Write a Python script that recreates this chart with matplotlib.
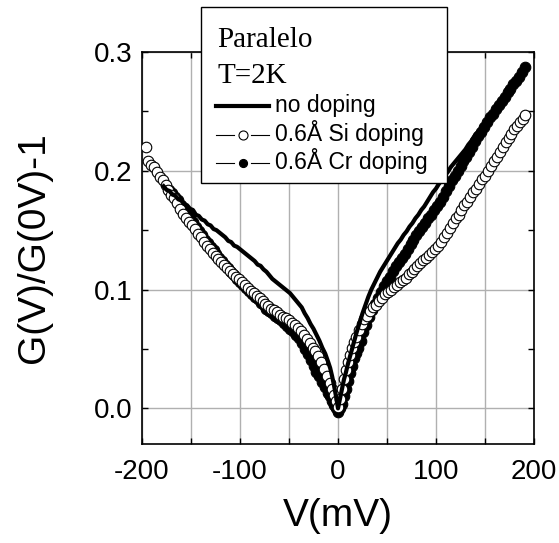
import matplotlib
matplotlib.use("Agg")
import matplotlib.pyplot as plt
from matplotlib.lines import Line2D
from matplotlib.patches import Rectangle
from matplotlib.ticker import MultipleLocator

plt.rcParams['font.family'] = ['Liberation Sans', 'DejaVu Sans']
plt.rcParams['axes.unicode_minus'] = False

# ---- data: normalized conductance G(V)/G(0V)-1 vs bias V (mV) ----
# no doping (solid line)
v_none = [-178, -175, -172, -169, -166, -163, -160, -157, -154, -151, -148, -145,
          -142, -139, -136, -133, -130, -127, -124, -121, -118, -115, -112, -109,
          -106, -103, -100, -97, -94, -91, -88, -85, -82, -79, -76, -73, -70,
          -67, -64, -61, -58, -55, -52, -49, -46, -43, -40, -37, -34, -31, -28,
          -25, -22, -19, -16, -13, -10, -8, -6, -4, -2, 0,
          2, 4, 6, 8, 10, 13, 16, 19, 22, 25, 28, 31, 34, 37, 40, 43, 46, 49,
          52, 55, 58, 61, 64, 67, 70, 73, 76, 79, 82, 85, 88, 91, 94, 97, 100,
          103, 106, 109, 112, 115, 118, 121, 124, 127, 130, 133, 136, 139, 142,
          145, 148, 151, 154, 157, 160, 163, 166, 169, 172, 175, 178, 181, 184,
          187, 190, 193]
g_none = [0.187, 0.184, 0.183, 0.180, 0.179, 0.176, 0.175, 0.172, 0.171, 0.168,
          0.167, 0.163, 0.162, 0.159, 0.158, 0.155, 0.154, 0.151, 0.150, 0.148,
          0.146, 0.144, 0.141, 0.140, 0.137, 0.136, 0.134, 0.132, 0.130, 0.128,
          0.126, 0.124, 0.121, 0.120, 0.117, 0.115, 0.112, 0.109, 0.107, 0.105,
          0.103, 0.101, 0.099, 0.097, 0.094, 0.091, 0.088, 0.085, 0.080, 0.076,
          0.071, 0.067, 0.062, 0.057, 0.051, 0.046, 0.039, 0.034, 0.027, 0.019,
          0.010, 0.000,
          0.008, 0.016, 0.024, 0.030, 0.037, 0.046, 0.055, 0.064, 0.072, 0.080,
          0.087, 0.094, 0.100, 0.105, 0.110, 0.115, 0.119, 0.123, 0.127, 0.131,
          0.135, 0.139, 0.142, 0.146, 0.149, 0.153, 0.156, 0.160, 0.163, 0.167,
          0.170, 0.174, 0.178, 0.182, 0.185, 0.189, 0.192, 0.196, 0.199, 0.203,
          0.206, 0.209, 0.212, 0.215, 0.218, 0.222, 0.225, 0.229, 0.232, 0.235,
          0.239, 0.242, 0.245, 0.248, 0.252, 0.255, 0.258, 0.262, 0.265, 0.269,
          0.272, 0.275, 0.278, 0.281, 0.285, 0.288]

# 0.6 Å Si doping (open circles)
v_si = [-196, -194, -191, -188, -185, -182, -179, -176, -173, -170, -167, -164,
        -161, -158, -155, -152, -149, -146, -143, -140, -137, -134, -131, -128,
        -125, -122, -119, -116, -113, -110, -107, -104, -101, -98, -95, -92,
        -89, -86, -83, -80, -77, -74, -71, -68, -65, -62, -59, -56, -53, -50,
        -47, -44, -41, -38, -35, -32, -29, -26, -23, -20, -17, -14, -11, -8,
        -6, -4, -2, 0,
        2, 4, 6, 8, 10, 12, 14, 16, 18, 21, 24, 27, 30, 33, 36, 39, 42, 45,
        48, 51, 54, 57, 60, 63, 66, 69, 72, 75, 78, 81, 84, 87, 90, 93, 96,
        99, 102, 105, 108, 111, 114, 117, 120, 123, 126, 129, 132, 135, 138,
        141, 144, 147, 150, 153, 156, 159, 162, 165, 168, 171, 174, 177, 180,
        183, 186, 189, 191]
g_si = [0.220, 0.208, 0.205, 0.203, 0.199, 0.195, 0.192, 0.188, 0.184, 0.180,
        0.177, 0.173, 0.168, 0.164, 0.160, 0.157, 0.154, 0.151, 0.147, 0.144,
        0.140, 0.137, 0.134, 0.131, 0.128, 0.126, 0.123, 0.121, 0.118, 0.116,
        0.113, 0.111, 0.109, 0.106, 0.104, 0.101, 0.099, 0.097, 0.095, 0.093,
        0.090, 0.088, 0.086, 0.084, 0.083, 0.081, 0.079, 0.077, 0.076, 0.074,
        0.072, 0.070, 0.068, 0.065, 0.062, 0.058, 0.055, 0.051, 0.048, 0.044,
        0.039, 0.033, 0.027, 0.021, 0.016, 0.011, 0.006, 0.001,
        0.008, 0.016, 0.025, 0.032, 0.039, 0.045, 0.051, 0.056, 0.060, 0.066,
        0.071, 0.075, 0.078, 0.082, 0.085, 0.087, 0.090, 0.093, 0.096, 0.098,
        0.100, 0.102, 0.104, 0.106, 0.108, 0.110, 0.113, 0.115, 0.117, 0.120,
        0.122, 0.125, 0.127, 0.129, 0.132, 0.134, 0.137, 0.140, 0.144, 0.148,
        0.152, 0.156, 0.160, 0.163, 0.167, 0.171, 0.174, 0.178, 0.182, 0.185,
        0.189, 0.193, 0.196, 0.200, 0.204, 0.208, 0.212, 0.216, 0.220, 0.224,
        0.228, 0.231, 0.235, 0.238, 0.241, 0.244, 0.247]

# 0.6 Å Cr doping (filled circles)
v_cr = [-172, -169, -166, -163, -160, -157, -154, -151, -148, -145, -142, -139,
        -136, -133, -130, -127, -124, -121, -118, -115, -112, -109, -106, -103,
        -100, -97, -94, -91, -88, -85, -82, -79, -76, -73, -70, -67, -64, -61,
        -58, -55, -52, -49, -46, -43, -40, -37, -34, -31, -28, -25, -22, -19,
        -16, -13, -10, -8, -6, -4, -2, 0,
        2, 4, 6, 8, 10, 12, 14, 16, 18, 20, 23, 26, 29, 32, 35, 38, 41, 44,
        47, 50, 53, 56, 59, 62, 65, 68, 71, 74, 77, 80, 83, 86, 89, 92, 95,
        98, 101, 104, 107, 110, 113, 116, 119, 122, 125, 128, 131, 134, 137,
        140, 143, 146, 149, 152, 155, 158, 161, 164, 167, 170, 173, 176, 179,
        182, 185, 188, 191]
g_cr = [0.184, 0.181, 0.178, 0.175, 0.171, 0.167, 0.164, 0.160, 0.157, 0.153,
        0.149, 0.146, 0.142, 0.139, 0.136, 0.133, 0.130, 0.127, 0.124, 0.121,
        0.118, 0.115, 0.112, 0.109, 0.106, 0.104, 0.101, 0.099, 0.096, 0.094,
        0.092, 0.089, 0.087, 0.084, 0.082, 0.080, 0.078, 0.076, 0.074, 0.072,
        0.069, 0.067, 0.065, 0.062, 0.059, 0.055, 0.050, 0.046, 0.041, 0.036,
        0.031, 0.027, 0.022, 0.018, 0.013, 0.010, 0.006, 0.003, 0.000, -0.003,
        0.000, 0.004, 0.010, 0.016, 0.023, 0.030, 0.036, 0.042, 0.047, 0.051,
        0.057, 0.064, 0.070, 0.077, 0.083, 0.088, 0.093, 0.098, 0.103, 0.107,
        0.111, 0.116, 0.120, 0.123, 0.127, 0.130, 0.134, 0.138, 0.142, 0.146,
        0.149, 0.153, 0.156, 0.160, 0.163, 0.167, 0.170, 0.174, 0.178, 0.183,
        0.187, 0.192, 0.196, 0.200, 0.204, 0.208, 0.212, 0.216, 0.220, 0.225,
        0.229, 0.233, 0.237, 0.241, 0.245, 0.248, 0.252, 0.255, 0.259, 0.262,
        0.266, 0.269, 0.273, 0.276, 0.279, 0.283, 0.287]

title_lines = ["Paralelo", "T=2K"]
labels = ["no doping", "0.6Å Si doping", "0.6Å Cr doping"]
x_ticks = [-200, -100, 0, 100, 200]
y_ticks = [0.0, 0.1, 0.2, 0.3]

W, H = 559, 543
fig = plt.figure(figsize=(W / 100, H / 100), dpi=100)
ax = fig.add_axes([142 / W, 1 - 444 / H, 392 / W, 392 / H])

# grid: vertical every 50 mV, horizontal every 0.1
ax.set_xlim(-200, 200)
ax.set_ylim(-0.03, 0.3)
ax.set_xticks(x_ticks)
ax.set_yticks(y_ticks)
ax.xaxis.set_minor_locator(MultipleLocator(50))
ax.yaxis.set_minor_locator(MultipleLocator(0.05))
ax.grid(True, which='both', axis='x', color='#b0b0b0', lw=1.0)
ax.grid(True, which='major', axis='y', color='#b0b0b0', lw=1.0)
ax.set_axisbelow(True)

ax.plot(v_cr, g_cr, ls='none', marker='o', ms=7.6, mfc='black', mec='black',
        mew=0.8, zorder=3)
ax.plot(v_si, g_si, ls='none', marker='o', ms=7.6, mfc='white', mec='black',
        mew=0.8, zorder=4)
ax.plot(v_none, g_none, color='black', lw=3.0, zorder=5)

ax.tick_params(which='both', direction='in', top=True, right=True,
               length=4, width=1.0, labelsize=20)
ax.tick_params(axis='x', pad=11)
ax.tick_params(axis='y', pad=7)
ax.set_yticklabels([f"{t:.1f}" for t in y_ticks])
for s in ax.spines.values():
    s.set_linewidth(1.2)

ax.set_xlabel("V(mV)", fontsize=28, labelpad=9)
ax.set_ylabel("G(V)/G(0V)-1", fontsize=28, labelpad=30)

# ---- key box (pixel layout, top-left origin) ----
def fx(px):
    return px / W

def fy(py):
    return 1 - py / H

box = Rectangle((fx(201), fy(183)), fx(447) - fx(201), fy(7) - fy(183),
                transform=fig.transFigure, facecolor='white', edgecolor='black',
                lw=1.0, zorder=20)
fig.add_artist(box)

for txt, base in zip(title_lines, [47, 83]):
    fig.text(fx(217), fy(base), txt, family='Liberation Serif', fontsize=21,
             va='baseline', ha='left', zorder=21)

label_base = [112, 141, 169]
line_y = [106, 135, 163]
for lab, base in zip(labels, label_base):
    fig.text(fx(275), fy(base), lab, fontsize=16.5, va='baseline', ha='left',
             zorder=21)

# sample: thick line
fig.add_artist(Line2D([fx(216), fx(269)], [fy(line_y[0])] * 2, color='black',
                      lw=3.0, transform=fig.transFigure, zorder=21))
# samples: thin line broken around the marker
for y, filled in zip(line_y[1:], [False, True]):
    for xa, xb in [(216, 234), (251, 269)]:
        fig.add_artist(Line2D([fx(xa), fx(xb)], [fy(y)] * 2, color='black',
                              lw=0.8, transform=fig.transFigure, zorder=21))
    fig.add_artist(Line2D([fx(242.5)], [fy(y)], ls='none', marker='o',
                          ms=6.5 if not filled else 5.8,
                          mfc='black' if filled else 'white', mec='black',
                          mew=0.8, transform=fig.transFigure, zorder=21))

fig.savefig("out.png", dpi=100)
